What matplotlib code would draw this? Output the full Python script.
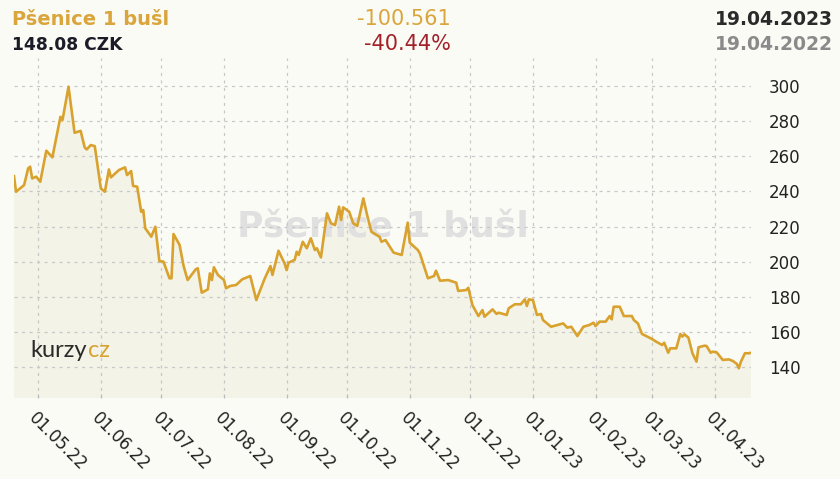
import matplotlib.pyplot as plt
import matplotlib.dates as mdates
import numpy as np
import pandas as pd

# Data: days since 19.04.2022 and price (CZK)
start_date = "2022-04-19"
end_date = "2023-04-19"
day_offsets = [
    0, 1, 5, 7, 8, 9, 11, 13, 16, 19, 23, 24, 27, 30, 33, 35, 36, 38, 40, 43,
    45, 47, 48, 52, 55, 56, 58, 59, 61, 63, 64, 65, 68, 70, 72, 74, 77, 78, 79, 82,
    84, 86, 90, 91, 93, 96, 97, 98, 99, 101, 104, 105, 107, 110, 113, 117, 120, 124, 127, 128,
    131, 134, 135, 136, 139, 140, 141, 143, 145, 147, 149, 150, 152, 155, 157, 159, 161, 162, 163, 166,
    168, 170, 173, 175, 177, 181, 182, 184, 188, 192, 195, 196, 200, 201, 205, 208, 209, 211, 215, 219,
    220, 224, 225, 227, 230, 232, 233, 237, 239, 240, 244, 245, 248, 251, 253, 254, 255, 257, 259, 261,
    262, 266, 272, 274, 276, 279, 282, 285, 287, 288, 290, 293, 295, 296, 297, 300, 302, 306, 307, 309,
    311, 316, 318, 321, 322, 324, 325, 328, 330, 331, 332, 334, 336, 338, 339, 342, 343, 345, 346, 348,
    351, 354, 356, 358, 359, 360, 362, 364, 365,
]
prices = [
    248.7, 239.8, 243.6, 253.1, 254.1, 247.4, 248.4, 245.5, 263.2, 259.4, 282.5, 280.6, 299.6, 273.4, 274.5, 265.1, 263.9, 266.4, 265.8, 241.7,
    239.8, 252.5, 248.0, 252.2, 253.7, 249.3, 251.6, 243.1, 242.7, 228.4, 229.4, 219.0, 214.2, 219.9, 200.3, 200.0, 190.5, 190.5, 215.7, 209.5,
    197.5, 189.5, 195.6, 196.2, 182.3, 184.2, 193.3, 189.5, 196.8, 192.4, 189.5, 184.8, 186.1, 186.7, 189.9, 191.8, 178.1, 189.9, 197.5, 192.4,
    206.2, 199.0, 195.2, 199.4, 201.0, 205.6, 203.8, 211.3, 207.6, 213.3, 206.6, 207.6, 202.4, 227.5, 221.8, 220.8, 231.3, 223.7, 230.9, 228.4,
    221.8, 220.3, 236.0, 226.0, 217.0, 214.2, 211.3, 212.3, 205.1, 203.8, 222.2, 210.8, 206.6, 204.7, 190.5, 191.8, 194.8, 189.1, 189.5, 188.0,
    183.3, 183.8, 185.1, 175.3, 169.0, 172.4, 168.6, 172.8, 170.2, 170.9, 169.6, 173.4, 175.7, 175.7, 178.5, 174.7, 178.5, 178.1, 169.6, 170.2,
    166.7, 162.9, 164.8, 162.4, 162.9, 157.6, 162.9, 163.9, 165.2, 163.3, 165.8, 165.8, 169.0, 167.1, 174.3, 174.3, 169.0, 169.0, 166.7, 164.8,
    158.8, 155.9, 154.4, 152.5, 153.8, 148.1, 150.6, 150.6, 158.8, 157.3, 158.6, 156.7, 147.8, 143.0, 151.2, 152.1, 151.9, 148.1, 148.7, 148.3,
    144.0, 144.3, 143.4, 141.7, 139.2, 143.0, 147.8, 147.8, 148.08,
]
y_ticks = [140, 160, 180, 200, 220, 240, 260, 280, 300]

title = "Pšenice 1 bušl"
last_price = "148.08 CZK"
change_abs = "-100.561"
change_pct = "-40.44%"
date_to = "19.04.2023"
date_from = "19.04.2022"

dates = pd.to_datetime(start_date) + pd.to_timedelta(day_offsets, unit="D")

bg = "#fbfbf6"
gold = "#d9a22e"

fig = plt.figure(figsize=(8.4, 4.79), dpi=100, facecolor=bg)
ax = fig.add_axes([14 / 840, 1 - 398 / 479, 737 / 840, 340 / 479])
ax.set_facecolor(bg)

# watermark
ax.text(0.5, 0.5, title, transform=ax.transAxes, fontsize=26, fontweight="bold",
        color="#e0e0e0", ha="center", va="center", zorder=1.5)

ax.fill_between(dates, prices, 0, color="#f3f3e7", zorder=1, linewidth=0)
ax.plot(dates, prices, color=gold, linewidth=1.9, zorder=3, solid_joinstyle="round")

ax.set_xlim(pd.to_datetime(start_date), pd.to_datetime(end_date))
ax.set_ylim(122.3, 316)

ax.xaxis.set_major_locator(mdates.MonthLocator())
ax.xaxis.set_major_formatter(mdates.DateFormatter("%d.%m.%y"))
ax.set_yticks(y_ticks)
ax.yaxis.tick_right()

ax.grid(True, color="#c8c8c8", linestyle=(0, (2.5, 3.5)), linewidth=0.9, zorder=2)
ax.set_axisbelow(False)
for s in ax.spines.values():
    s.set_visible(False)

ax.tick_params(axis="y", length=0, pad=13, labelsize=12, labelcolor="#222222")
ax.tick_params(axis="x", length=3, color="#bbbbbb", direction="in", pad=8,
               labelsize=12, labelcolor="#222222")
for lbl in ax.get_xticklabels():
    lbl.set_rotation(-45)
    lbl.set_ha("left")
    lbl.set_va("top")
    lbl.set_rotation_mode("anchor")

# kurzy.cz logo
fig.text(87 / 840, 1 - 357 / 479, "kurzy", fontsize=17, family="Lato",
         color="#2a2a2a", ha="right", va="baseline")
fig.text(88 / 840, 1 - 357 / 479, "cz", fontsize=17, family="Lato",
         color=gold, ha="left", va="baseline")

# header
row1 = 1 - 25 / 479
row2 = 1 - 50 / 479
fig.text(12 / 840, row1, title, fontsize=14, fontweight="bold", color="#d9a53c", va="baseline")
fig.text(12 / 840, row2, last_price, fontsize=12.3, fontweight="bold", color="#1c1c28", va="baseline")
fig.text(451 / 840, row1, change_abs, fontsize=15, color="#d9a53c", ha="right", va="baseline")
fig.text(451 / 840, row2, change_pct, fontsize=15, color="#a3202a", ha="right", va="baseline")
fig.text(833 / 840, row1, date_to, fontsize=13.5, fontweight="bold", color="#2a2a2a", ha="right", va="baseline")
fig.text(833 / 840, row2, date_from, fontsize=13.5, fontweight="bold", color="#8a8a8a", ha="right", va="baseline")

fig.savefig("out.png", dpi=100, facecolor=bg)
